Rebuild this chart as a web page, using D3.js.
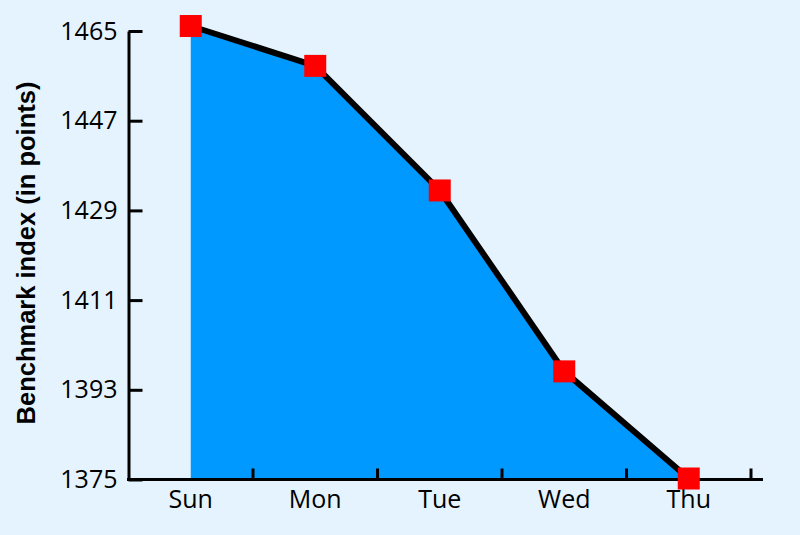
<!DOCTYPE html>
<html>
<head>
<meta charset="utf-8">
<script src="https://cdn.jsdelivr.net/npm/d3@7"></script>
<style>
  html, body { margin: 0; padding: 0; background: #e4f3fd; }
  svg { display: block; }
</style>
</head>
<body>
<svg id="chart" width="800" height="535"></svg>
<script>
const days = ["Sun", "Mon", "Tue", "Wed", "Thu"];
const values = [1466, 1458, 1433, 1396.7, 1375.2];
const yTicks = [1375, 1393, 1411, 1429, 1447, 1465];
const yTitle = "Benchmark index (in points)";

const data = days.map((d, i) => ({ day: d, value: values[i] }));

const svg = d3.select("#chart");
svg.append("rect").attr("width", 800).attr("height", 535).attr("fill", "#e4f3fd");

const x = d3.scaleBand().domain(days).range([128.5, 751]).padding(0);
const y = d3.scaleLinear().domain([1375, 1465]).range([479.5, 31]);
const cx = d => x(d) + x.bandwidth() / 2;

// area
const area = d3.area()
  .x(d => cx(d.day))
  .y0(y(1375))
  .y1(d => y(d.value));
svg.append("path").datum(data)
  .attr("d", area)
  .attr("fill", "#0099ff");

// line
const line = d3.line().x(d => cx(d.day)).y(d => y(d.value));
svg.append("path").datum(data)
  .attr("d", line)
  .attr("fill", "none")
  .attr("stroke", "#000")
  .attr("stroke-width", 6)
  .attr("stroke-linejoin", "miter");

const tickFont = "'Open Sans', sans-serif";
const tickSize = "25px";

// y axis
const yAxis = d3.axisLeft(y).tickValues(yTicks).tickSizeInner(-14).tickSizeOuter(0).tickPadding(11).tickFormat(d3.format("d"));
const gy = svg.append("g").attr("transform", "translate(128.5,0)").call(yAxis);
gy.select(".domain").attr("stroke", "#000").attr("stroke-width", 3);
gy.selectAll(".tick line").attr("stroke", "#000").attr("stroke-width", 3);
gy.selectAll(".tick text")
  .attr("fill", "#000")
  .style("font-family", tickFont)
  .style("font-size", tickSize);

// x axis
const xAxis = d3.axisBottom(x).tickSize(0).tickPadding(11);
const gx = svg.append("g").attr("transform", "translate(0,479.5)").call(xAxis);
gx.select(".domain").remove();
gx.selectAll(".tick text")
  .attr("fill", "#000")
  .style("font-family", tickFont)
  .style("font-size", tickSize);

// x axis line and boundary ticks
svg.append("line")
  .attr("x1", 127).attr("x2", 763)
  .attr("y1", y(1375)).attr("y2", y(1375))
  .attr("stroke", "#000").attr("stroke-width", 3);
svg.append("g").selectAll("line")
  .data(days)
  .join("line")
  .attr("x1", d => x(d) + x.step()).attr("x2", d => x(d) + x.step())
  .attr("y1", y(1375)).attr("y2", y(1375) - 11)
  .attr("stroke", "#000").attr("stroke-width", 3);

// markers
svg.append("g").selectAll("rect")
  .data(data)
  .join("rect")
  .attr("x", d => cx(d.day) - 11)
  .attr("y", d => y(d.value) - 11)
  .attr("width", 22)
  .attr("height", 22)
  .attr("fill", "#ff0000");

// y title
svg.append("text")
  .attr("transform", "translate(35,253) rotate(-90)")
  .attr("text-anchor", "middle")
  .style("font-family", "'Liberation Sans', Arial, sans-serif")
  .style("font-weight", "bold")
  .style("font-size", "25.5px")
  .attr("fill", "#000")
  .text(yTitle);
</script>
</body>
</html>
